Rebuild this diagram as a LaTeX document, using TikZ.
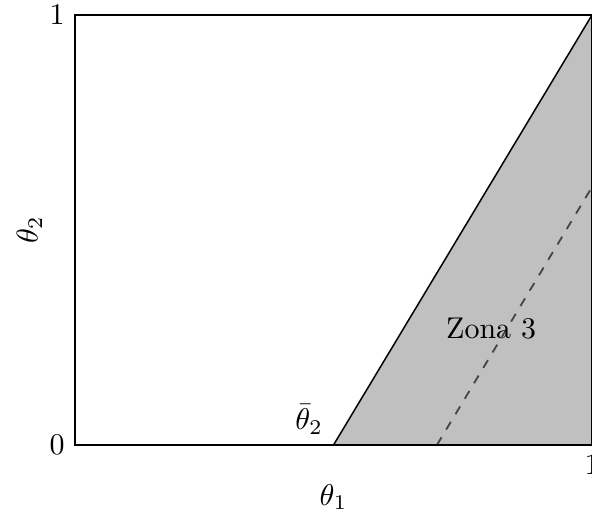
\documentclass[tikz,border=0pt]{standalone}
\usepackage{amsmath}
\usepackage{xcolor}
\usepackage{tikz}
\usetikzlibrary{positioning}
\definecolor{zonefill}{HTML}{C0C0C0}
\definecolor{zoneink}{HTML}{444444}

\begin{document}
\begin{tikzpicture}[
  x=172.3pt,y=143.3pt,
  frame/.style={draw=black,line width=0.4pt},
  border/.style={draw=black,line width=0.5pt},
  guide/.style={dashed,zoneink,line width=0.6pt},
  ticklbl/.style={inner sep=3.3pt}
]
\useasboundingbox (-0.1451,-0.1674) rectangle (1,1.0349);
% corners of the square
\coordinate (o) at (0,0);
\coordinate (xe) at (1,0);
\coordinate (ye) at (0,1);
\coordinate (tr) at (1,1);
\coordinate (t2) at (0.5,0);
\coordinate (d0) at (0.7,0);
\coordinate (d1) at (1,0.6);
% zona 3
\fill[zonefill] (t2) -- (tr) -- (xe) -- cycle;
\draw[guide] (d0) -- (d1);
\draw[border] (t2) -- (tr);
\draw[frame] (o) rectangle (tr);
% labels
\node[ticklbl,left] (l0) at (o) {$0$};
\node[ticklbl,left] (l1) at (ye) {$1$};
\node[ticklbl,below] (r1) at (xe) {$1$};
\node[above left] (tb) at (t2) {$\bar{\theta}_2$};
\node (z3) at (0.805,0.27) {Zona 3};
\node (ax1) at (0.5,-0.121) {$\theta_1$};
\node[rotate=90] (ax2) at (-0.088,0.5) {$\theta_2$};
\end{tikzpicture}
\end{document}
